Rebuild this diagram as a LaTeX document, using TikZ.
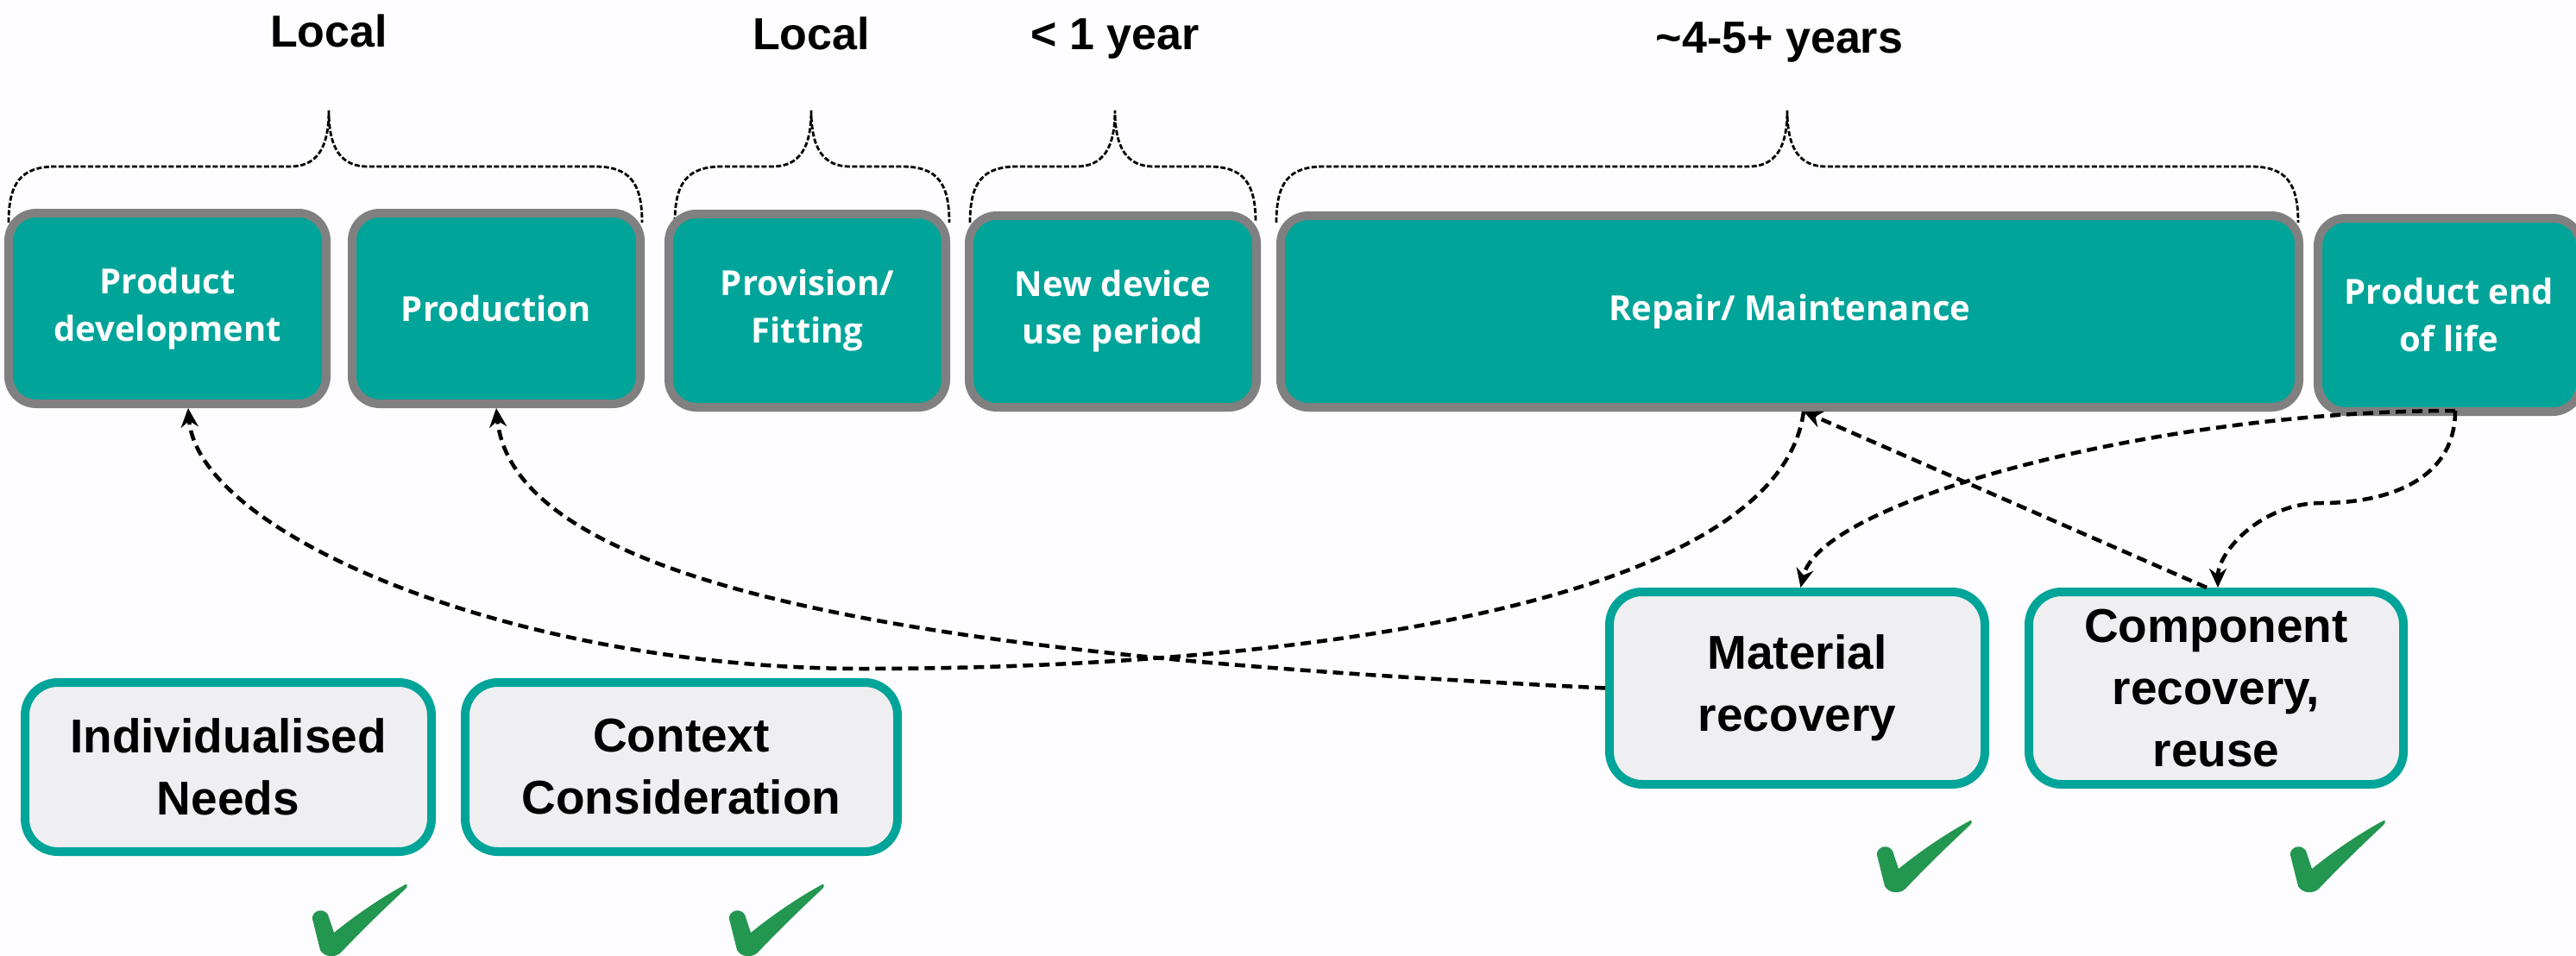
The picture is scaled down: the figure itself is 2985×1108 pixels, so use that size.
\documentclass[tikz,border=0pt]{standalone}
\usepackage{fontspec}
\setmainfont{Liberation Sans}
\newfontfamily\boxfont{Open Sans}
\usetikzlibrary{arrows.meta,calc}
\definecolor{tealbox}{RGB}{0,164,153}
\definecolor{boxgrey}{RGB}{128,128,128}
\definecolor{lightfill}{RGB}{239,239,241}
\definecolor{checkgreen}{RGB}{35,150,80}
\definecolor{bgcol}{RGB}{253,252,254}
\newcommand\mybrace[3]{%
  \draw[bracestyle] (#1,258) .. controls (#1,212) and ({#1+14},193) .. ({#1+55},193)
    -- ({#2-45},193) .. controls ({#2-14},193) and (#2,172) .. (#2,128)
    .. controls (#2,172) and ({#2+14},193) .. ({#2+45},193)
    -- ({#3-55},193) .. controls ({#3-14},193) and (#3,212) .. (#3,258);}
\newcommand\greencheck[2]{%
  \fill[checkgreen,shift={(#1,#2)}] (3,41) .. controls (2,32) and (15,27) .. (21,36)
    -- (28,57) .. controls (55,35) and (85,15) .. (111,1)
    .. controls (113,0) and (114,4) .. (110,7)
    .. controls (80,35) and (55,60) .. (36,80)
    .. controls (30,86) and (17,86) .. (12,77) -- cycle;}
\begin{document}
\begin{tikzpicture}[x=1pt,y=-1pt,
  topbox/.style={draw=boxgrey,line width=10pt,fill=tealbox,rounded corners=32pt,
    text=white,font=\boxfont\bfseries\fontsize{40}{55}\selectfont,align=center,inner sep=0pt},
  botbox/.style={draw=tealbox,line width=10pt,fill=lightfill,rounded corners=38pt,
    text=black,font=\bfseries\fontsize{55}{72}\selectfont,align=center,inner sep=0pt},
  hdr/.style={font=\bfseries\fontsize{52}{60}\selectfont,inner sep=0pt,anchor=base},
  bracestyle/.style={draw=black,line width=2.8pt,dash pattern=on 6pt off 2.5pt},
  conn/.style={draw=black,line width=4.5pt,dash pattern=on 12pt off 7pt,
    -{Stealth[length=22pt,width=20pt]}}]
\fill[bgcol] (0,0) rectangle (2985,1108);
\useasboundingbox (0,0) rectangle (2985,1108);

% headers
\node[hdr] (h1) at (381,55) {Local};
\node[hdr] (h2) at (940,58) {Local};
\node[hdr] (h3) at (1292,58) {< 1 year};
\node[hdr] (h4) at (2062,62) {\textasciitilde 4-5+ years};

% braces
\mybrace{10}{381}{744}
\mybrace{782}{940}{1100}
\mybrace{1124}{1292}{1455}
\mybrace{1479}{2071}{2663}

% top boxes
\node[topbox,minimum width=368pt,minimum height=221pt] (pd) at (194,357.5) {Product\\development};
\node[topbox,minimum width=334pt,minimum height=221pt] (prod) at (575,357.5) {Production};
\node[topbox,minimum width=321pt,minimum height=224pt] (prov) at (935.5,360) {Provision/\\Fitting};
\node[topbox,minimum width=333pt,minimum height=222pt] (newd) at (1289.5,361) {New device\\use period};
\node[topbox,minimum width=1180pt,minimum height=222pt] (rep) at (2074,361) {Repair/ Maintenance};
\node[topbox,minimum width=304pt,minimum height=224pt] (eol) at (2838,365) {Product end\\of life};

% bottom boxes
\node[botbox,minimum width=471pt,minimum height=196pt] (ind) at (264.5,889) {Individualised\\Needs};
\node[botbox,minimum width=501pt,minimum height=196pt] (ctx) at (789.5,889) {Context\\Consideration};
\node[botbox,minimum width=435pt,minimum height=223pt] (mat) at (2082.5,797.5) {Material\\recovery};
\node[botbox,minimum width=434pt,minimum height=223pt] (comp) at (2568,797.5) {Component\\recovery,\\reuse};

% connectors
\draw[conn] ([xshift=16pt]rep.south) .. controls (2060,700) and (1500,775) .. (1000,775)
  .. controls (600,775) and (230,620) .. ([xshift=24pt]pd.south);
\draw[conn] (mat.west) .. controls (1300,770) and (600,720) .. (prod.south);
\draw[conn] ([xshift=7pt,yshift=6pt]eol.south) .. controls (2500,476) and (2110,580) .. ([xshift=4pt]mat.north);
\draw[conn] ([xshift=7pt,yshift=6pt]eol.south) .. controls (2845,560) and (2760,583) .. (2690,583)
  .. controls (2620,583) and (2570,640) .. ([xshift=2pt]comp.north);
\draw[conn] ([xshift=-11pt]comp.north) -- ([xshift=16pt]rep.south);

% check marks
\greencheck{359}{1024}
\greencheck{842}{1024}
\greencheck{2172}{950}
\greencheck{2651}{950}
\end{tikzpicture}
\end{document}
